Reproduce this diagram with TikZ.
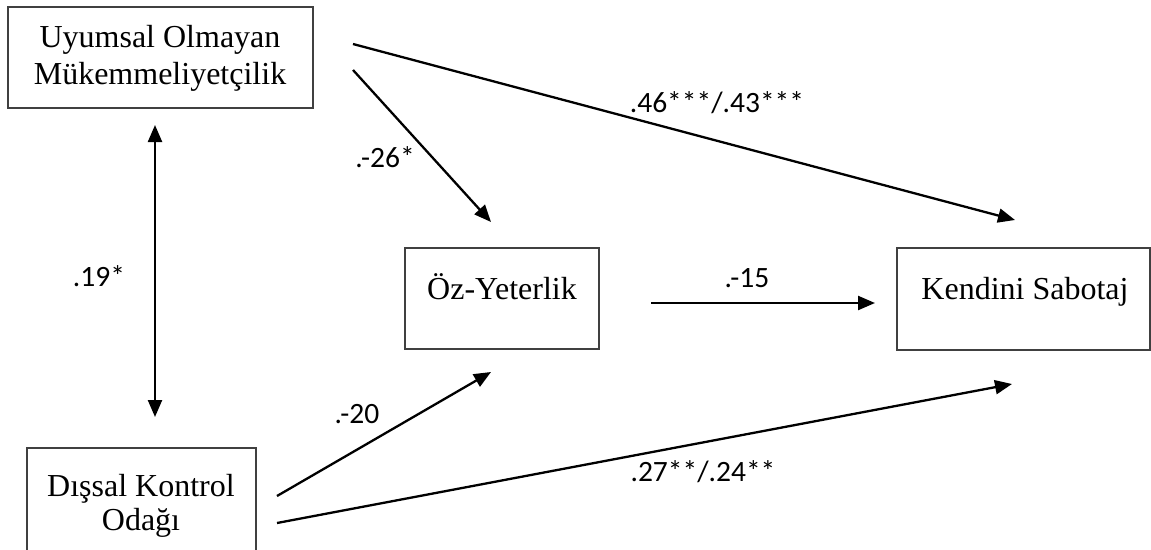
\documentclass[tikz,border=0pt]{standalone}
\usepackage{fontspec}
\setmainfont{Liberation Serif}
\newfontfamily\labfont{Carlito}
\usetikzlibrary{arrows.meta}
\begin{document}
\begin{tikzpicture}[x=1pt,y=-1pt,
  box/.style={draw=black!75, line width=1.2pt, inner sep=0pt, outer sep=0pt},
  boxtext/.style={anchor=base, inner sep=0pt, font=\fontsize{32}{37}\selectfont},
  lab/.style={anchor=base, inner sep=0pt, font=\labfont\fontsize{29.5}{33}\selectfont},
  arr/.style={line width=2.3pt, -{Triangle[length=17pt,width=14pt]}},
  darr/.style={line width=2.3pt, {Triangle[length=17pt,width=14pt]}-{Triangle[length=17pt,width=14pt]}}]
\useasboundingbox (0,0) rectangle (1151,549);
\clip (0,0) rectangle (1151,549);
\fill[white] (0,0) rectangle (1151,549);
% boxes
\node[box, minimum width=305pt, minimum height=101pt] (uom) at (160.5,57.5) {};
\node[box, minimum width=194pt, minimum height=101pt] (oy) at (502,298.5) {};
\node[box, minimum width=253pt, minimum height=102pt] (ks) at (1023.5,299) {};
\node[box, minimum width=229pt, minimum height=130pt] (dko) at (141.5,513) {};
% box texts
\node[boxtext] (uom1) at (160,47) {Uyumsal Olmayan};
\node[boxtext] (uom2) at (160,84) {Mükemmeliyetçilik};
\node[boxtext] (oyt) at (502,299) {Öz-Yeterlik};
\node[boxtext] (kst) at (1025,299) {Kendini Sabotaj};
\node[boxtext] (dko1) at (141,496) {Dışsal Kontrol};
\node[boxtext] (dko2) at (141,530) {Odağı};
% arrow end points
\coordinate (a1s) at (353,44);  \coordinate (a1e) at (1015,220);
\coordinate (a2s) at (353,70);  \coordinate (a2e) at (491,222);
\coordinate (a3s) at (651,303); \coordinate (a3e) at (875,303);
\coordinate (a4s) at (155,125); \coordinate (a4e) at (155,417);
\coordinate (a5s) at (277,496); \coordinate (a5e) at (491,372);
\coordinate (a6s) at (277,523); \coordinate (a6e) at (1012,384);
% arrows
\draw[arr] (a1s) -- (a1e);
\draw[arr] (a2s) -- (a2e);
\draw[arr] (a3s) -- (a3e);
\draw[darr] (a4s) -- (a4e);
\draw[arr] (a5s) -- (a5e);
\draw[arr] (a6s) -- (a6e);
% labels
\node[lab] (l1) at (717,112) {.46***/.43***};
\node[lab] (l2) at (385,167) {.-26*};
\node[lab] (l3) at (99,286) {.19*};
\node[lab] (l4) at (747,287) {.-15};
\node[lab] (l5) at (357,423) {.-20};
\node[lab] (l6) at (703,481) {.27**/.24**};
\end{tikzpicture}
\end{document}
